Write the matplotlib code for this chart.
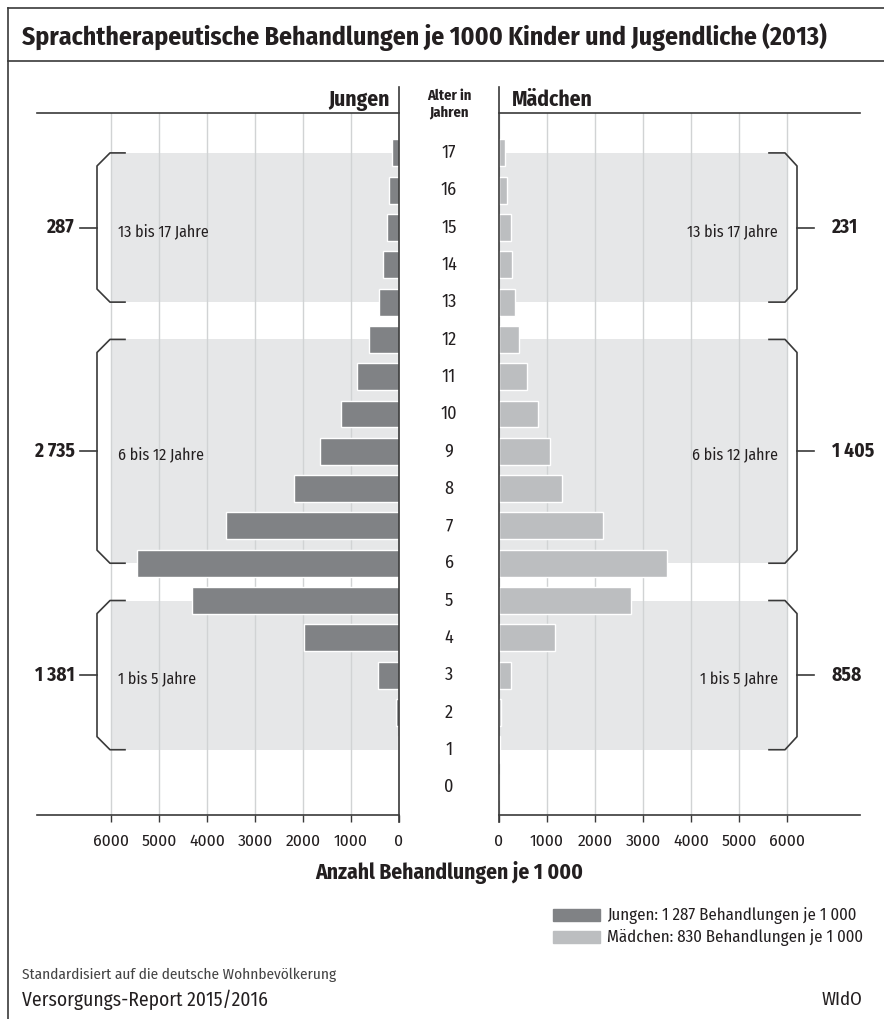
import numpy as np
import matplotlib
matplotlib.use("Agg")
import matplotlib.pyplot as plt
from matplotlib.lines import Line2D

plt.rcParams['font.family'] = ['Fira Sans Condensed', 'DejaVu Sans']

# data (treatments per 1000, by age)
ages = np.arange(0, 18)
jungen = [0, 20, 60, 440, 1980, 4310, 5460, 3610, 2190, 1650, 1210, 880, 620, 420, 330, 250, 210, 150]
maedchen = [0, 20, 50, 260, 1160, 2760, 3500, 2170, 1310, 1070, 820, 580, 420, 340, 280, 240, 170, 125]

groups = [(1, 5), (6, 12), (13, 17)]
group_names = ['1 bis 5 Jahre', '6 bis 12 Jahre', '13 bis 17 Jahre']
group_jungen = ['1 381', '2 735', '287']
group_maedchen = ['858', '1 405', '231']
ticks = [0, 1000, 2000, 3000, 4000, 5000, 6000]

c_dark = '#808285'
c_light = '#bcbec0'
c_band = '#e6e7e8'
c_grid = '#d1d3d4'
c_line = '#3a3a3a'
c_text = '#231f20'

W, H = 884, 1019
fig = plt.figure(figsize=(W / 100, H / 100), dpi=100)

def fx(px):
    return px / W

def fy(py):
    return 1 - py / H

# axes in pixel layout
top, bottom = 113, 815
ax_l = fig.add_axes([fx(37), fy(bottom), fx(399 - 37), (bottom - top) / H])
ax_r = fig.add_axes([fx(499), fy(bottom), fx(860 - 499), (bottom - top) / H])

ylo, yhi = -0.75, 18.07
ax_l.set_xlim((399 - 37) / 0.048, 0)
ax_r.set_xlim(0, (860 - 499) / 0.048)

for ax, vals, col in [(ax_l, jungen, c_dark), (ax_r, maedchen, c_light)]:
    ax.set_ylim(ylo, yhi)
    # shaded age bands
    for a0, a1 in groups:
        ax.fill_betweenx([a0, a1], 0, 6000, color=c_band, lw=0, zorder=0)
    for t in ticks:
        ax.axvline(t, color=c_grid, lw=1, zorder=1)
    ax.barh(ages, vals, height=0.72, color=col, edgecolor='white', lw=1, zorder=2)
    ax.set_yticks([])
    ax.set_xticks(ticks)
    ax.set_xticklabels([str(t) for t in ticks], fontsize=12.5, color=c_text)
    ax.tick_params(axis='x', direction='out', length=5, width=1, color=c_line, pad=8)
    for s in ['left', 'right']:
        ax.spines[s].set_visible(False)
    for s in ['top', 'bottom']:
        ax.spines[s].set_color(c_line)
        ax.spines[s].set_linewidth(1.2)
    # central vertical line
    ax.plot([0, 0], [yhi + 0.7, ylo - 0.2], color=c_line, lw=1.2, clip_on=False, zorder=3)

# brackets and group labels
def bracket(ax, a0, a1, xv, xc, xe, xt, xlab, label, name, xname, ha_lab, ha_name):
    dy = 0.35
    ax.plot([xe, xc, xv, xv, xc, xe], [a1, a1, a1 - dy, a0 + dy, a0, a0],
            color=c_line, lw=1.2, clip_on=False, zorder=3)
    mid = (a0 + a1) / 2
    ax.plot([xv, xt], [mid, mid], color=c_line, lw=1.2, clip_on=False, zorder=3)
    ax.text(xlab, mid, label, ha=ha_lab, va='center', fontsize=14, fontweight='bold', color=c_text)
    ax.text(xname, mid - 0.1, name, ha=ha_name, va='center', fontsize=11.5, color=c_text)

for (a0, a1), nm, gj, gm in zip(groups, group_names, group_jungen, group_maedchen):
    bracket(ax_l, a0, a1, (399 - 97) / 0.048, (399 - 110) / 0.048, (399 - 125) / 0.048,
            (399 - 80) / 0.048, (399 - 75) / 0.048, gj, nm, (399 - 118) / 0.048, 'right', 'left')
    bracket(ax_r, a0, a1, (797 - 499) / 0.048, (785 - 499) / 0.048, (769 - 499) / 0.048,
            (814 - 499) / 0.048, (832 - 499) / 0.048, gm, nm, (778 - 499) / 0.048, 'left', 'right')

# age labels in the middle
for a in ages:
    ax_l.annotate(str(a), xy=(0, a), xycoords='data', xytext=(50, 0),
                  textcoords='offset pixels', ha='center', va='center', fontsize=13, color=c_text)

# header texts
fig.text(fx(390), fy(100), 'Jungen', ha='right', va='center', fontsize=15.5, fontweight='bold', color=c_text)
fig.text(fx(512), fy(100), 'Mädchen', ha='left', va='center', fontsize=15.5, fontweight='bold', color=c_text)
fig.text(fx(449), fy(104), 'Alter in\nJahren', ha='center', va='center', fontsize=10.5,
         fontweight='bold', color=c_text, linespacing=1.25)

fig.text(fx(449), fy(872), 'Anzahl Behandlungen je 1 000', ha='center', va='center',
         fontsize=15.5, fontweight='bold', color=c_text)

# title and frame
fig.text(fx(22), fy(37), 'Sprachtherapeutische Behandlungen je 1000 Kinder und Jugendliche (2013)',
         ha='left', va='center', fontsize=18.5, fontweight='bold', color=c_text)
fig.add_artist(Line2D([fx(8), 1], [fy(8), fy(8)], color=c_line, lw=1.2))
fig.add_artist(Line2D([fx(8), 1], [fy(61), fy(61)], color=c_line, lw=1.2))
fig.add_artist(Line2D([fx(8), fx(8)], [fy(8), 0], color=c_line, lw=1.2))

# legend
fig.patches.append(plt.Rectangle((fx(553), fy(921)), fx(47), 12 / H, color=c_dark, transform=fig.transFigure))
fig.patches.append(plt.Rectangle((fx(553), fy(943)), fx(47), 12 / H, color=c_light, transform=fig.transFigure))
fig.text(fx(607), fy(915), 'Jungen: 1 287 Behandlungen je 1 000', ha='left', va='center', fontsize=12.1, color=c_text)
fig.text(fx(607), fy(937), 'Mädchen: 830 Behandlungen je 1 000', ha='left', va='center', fontsize=12.1, color=c_text)

# footer
fig.text(fx(22), fy(975), 'Standardisiert auf die deutsche Wohnbevölkerung', ha='left', va='center',
         fontsize=11, color='#444444')
fig.text(fx(22), fy(1000), 'Versorgungs-Report 2015/2016', ha='left', va='center', fontsize=14, color=c_text)
fig.text(fx(862), fy(1000), 'WIdO', ha='right', va='center', fontsize=13.5, color=c_text)

fig.savefig('out.png', dpi=100)
